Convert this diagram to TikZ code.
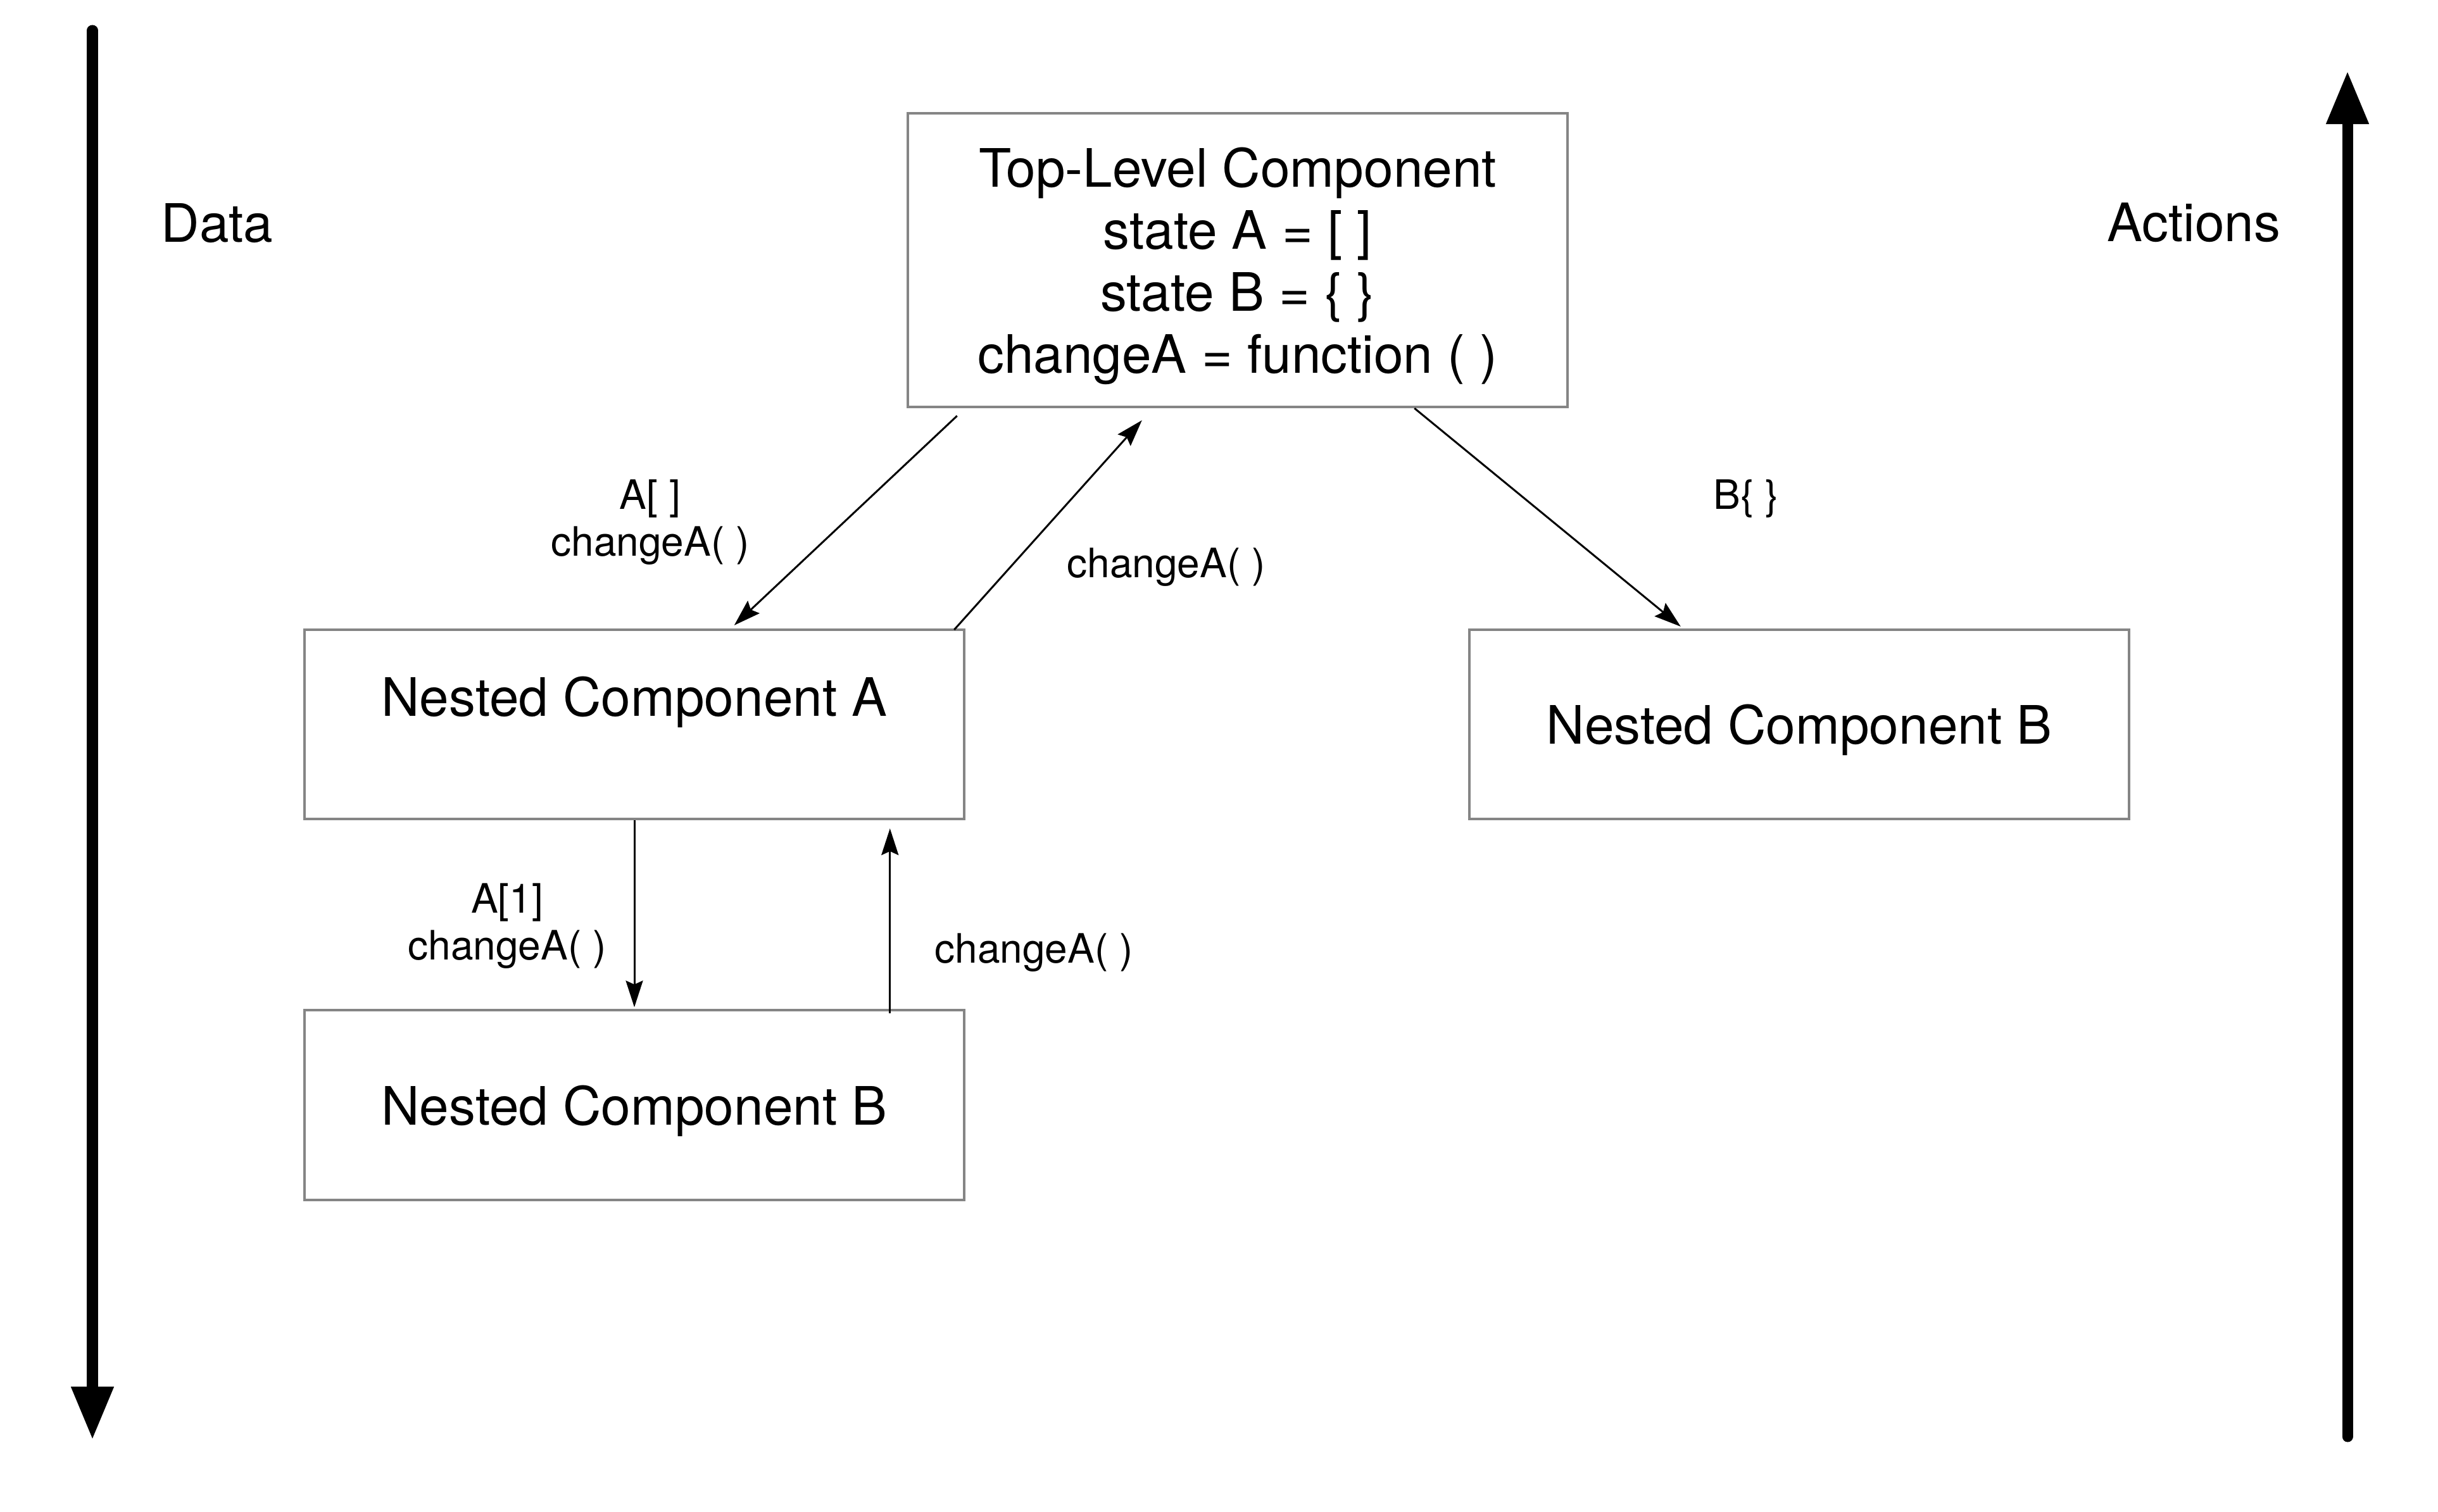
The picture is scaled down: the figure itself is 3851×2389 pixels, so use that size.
\documentclass[tikz,border=0pt]{standalone}
\usepackage{fontspec}
\setmainfont{TeX Gyre Heros}
\usetikzlibrary{arrows.meta,calc}
\begin{document}
\begin{tikzpicture}[x=0.01cm,y=-0.01cm,
  box/.style={draw=black!48, line width=1.1pt, minimum width=10.42cm, inner sep=0pt},
  big/.style={font=\fontsize{23.8}{27.9}\selectfont, align=center, inner sep=0pt, text depth=0pt},
  small/.style={font=\fontsize{18.2}{21}\selectfont, align=center, inner sep=0pt, text depth=0pt},
  conn/.style={line width=0.85pt, -{Stealth[length=0.42cm,width=0.27cm,inset=0.06cm]}},
  bigarrow/.style={line width=0.17cm, line cap=round, -{Triangle[length=0.84cm,width=0.63cm]}}]
\useasboundingbox (0,0) rectangle (3851,2389);
% boxes
\node[box, minimum height=4.64cm, big] (top) at (1955,411)
  {Top-Level Component\\state A = [ ]\\state B = \{ \}\\changeA = function ( )};
\node[box, minimum height=2.99cm] (nA) at (1002,1144.5) {};
\node[big] (nAt) at (1002,1100) {Nested Component A};
\node[box, minimum height=2.99cm, big] (nBr) at (2842,1144.5) {Nested Component B};
\node[box, minimum height=2.99cm, big] (nBb) at (1002,1746) {Nested Component B};
% side labels
\node[big] (data) at (343,352) {Data};
\node[big] (act) at (3465,351) {Actions};
% side arrows
\coordinate (d1) at (146,48);
\coordinate (d2) at (146,2275);
\coordinate (a1) at (3708,2270);
\coordinate (a2) at (3708,112);
\draw[bigarrow] (d1) -- (d2);
\draw[bigarrow] (a1) -- (a2);
% connectors
\draw[conn] ($(top.south west)+(80,12)$) -- ($(nA.north west)+(681,-5)$);
\draw[conn] ($(nA.north east)+(-18,2)$) -- ($(top.south west)+(372,19)$);
\draw[conn] ($(top.south east)+(-244,0)$) -- ($(nBr.north west)+(336,-3)$);
\draw[conn] (nA.south) -- ($(nBb.north)+(0,-3)$);
\draw[conn] ($(nBb.north west)+(927,7)$) -- ($(nA.south west)+(927,13)$);
% connector labels
\node[small] (l1) at (1027,818) {A[ ]\\changeA( )};
\node[small] (l2) at (1842,889) {changeA( )};
\node[small] (l3) at (2758,781) {B\{ \}};
\node[small] (l4) at (801,1456) {A[1]\\changeA( )};
\node[small] (l5) at (1633,1498) {changeA( )};
\end{tikzpicture}
\end{document}
